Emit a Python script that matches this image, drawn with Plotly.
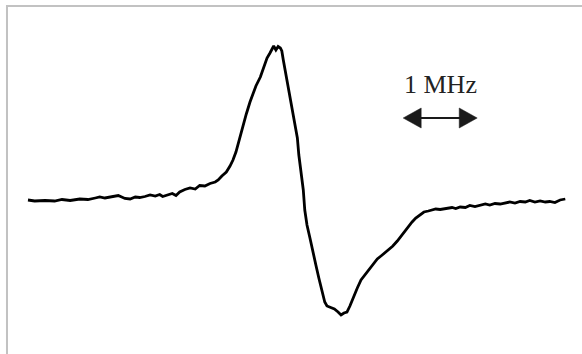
import plotly.graph_objects as go

# Frequency sweep (MHz, relative) and derivative signal (a.u.)
freq_mhz = [0.00, 0.09, 0.23, 0.36, 0.46, 0.57, 0.70, 0.81, 0.91, 0.97,
            1.04, 1.14, 1.22, 1.31, 1.38, 1.45, 1.51, 1.58, 1.65, 1.72,
            1.78, 1.82, 1.89, 1.95, 2.00, 2.05, 2.12, 2.19, 2.26, 2.32,
            2.39, 2.46, 2.53, 2.57, 2.62, 2.68, 2.73, 2.77, 2.81, 2.84,
            2.86, 2.91, 2.95, 3.00, 3.04, 3.08, 3.14, 3.19, 3.23, 3.27,
            3.30, 3.32, 3.35, 3.38, 3.41, 3.43, 3.45, 3.47, 3.50, 3.53,
            3.55, 3.58, 3.61, 3.64, 3.66, 3.69, 3.72, 3.74, 3.77, 3.81,
            3.85, 3.89, 3.93, 3.97, 4.01, 4.04, 4.08, 4.14, 4.19, 4.23,
            4.27, 4.31, 4.35, 4.39, 4.45, 4.50, 4.55, 4.61, 4.66, 4.72,
            4.77, 4.82, 4.88, 4.93, 4.99, 5.03, 5.08, 5.14, 5.19, 5.24,
            5.30, 5.35, 5.41, 5.46, 5.51, 5.57, 5.62, 5.68, 5.73, 5.78,
            5.84, 5.91, 5.97, 6.04, 6.11, 6.18, 6.24, 6.31, 6.38, 6.45,
            6.51, 6.58, 6.65, 6.72, 6.78, 6.85, 6.92, 6.99, 7.05, 7.12,
            7.19, 7.26]

signal = [0, -1, -0.5, -1, 0.5, -0.5, 1, 0.5, 2, 3,
          2, 3, 4.5, 1.5, 1, 3, 2.5, 3.5, 5, 4,
          5.5, 3.5, 5, 6.5, 4.5, 8, 10.5, 12, 11, 14.5,
          14, 16.5, 18, 20, 24, 28, 34, 40, 48, 56,
          64, 75, 86, 98, 107, 114, 123, 133, 142, 147,
          151, 154, 150, 153.5, 152, 149, 140, 132, 120, 110,
          100, 88, 76, 62, 45, 28, 10, -10, -25, -38,
          -50, -65, -78, -90, -102, -106, -107, -109, -112, -115,
          -113, -112, -106, -98, -88, -80, -75, -70, -64, -59,
          -56, -53, -49, -46, -41, -37, -32, -26, -22, -18,
          -15, -12, -11, -10, -9, -9.5, -9, -8, -7.5, -8.5,
          -7, -7.5, -5.5, -6.5, -5, -4, -5, -3.5, -4, -3,
          -2, -3, -1.5, -2, -0.5, -2, -1, -2, -1.5, -2.5,
          0, 1]

# Scale bar
bar_start = 5.07
bar_width_mhz = 1.0
bar_level = 82
bar_label = "1 MHz"

x_range = [-0.378, 7.486]
y_range = [-154, 200]

fig = go.Figure()
fig.add_trace(go.Scatter(x=freq_mhz, y=signal, mode="lines",
                         line=dict(color="#000000", width=2.8),
                         hoverinfo="skip", showlegend=False))

bar_end = bar_start + bar_width_mhz
head_len = 0.243
head_half = 10
fig.add_shape(type="line", x0=bar_start + head_len * 0.8, x1=bar_end - head_len * 0.8,
              y0=bar_level, y1=bar_level, xref="x", yref="y",
              line=dict(color="#1a1a1a", width=2.2))
fig.add_shape(type="path", xref="x", yref="y",
              path=f"M {bar_start},{bar_level} L {bar_start + head_len},{bar_level + head_half} "
                   f"L {bar_start + head_len},{bar_level - head_half} Z",
              fillcolor="#1a1a1a", line=dict(color="#1a1a1a", width=0.5))
fig.add_shape(type="path", xref="x", yref="y",
              path=f"M {bar_end},{bar_level} L {bar_end - head_len},{bar_level + head_half} "
                   f"L {bar_end - head_len},{bar_level - head_half} Z",
              fillcolor="#1a1a1a", line=dict(color="#1a1a1a", width=0.5))
fig.add_annotation(x=bar_start + bar_width_mhz / 2, y=bar_level + 34, xref="x", yref="y",
                   text=bar_label, showarrow=False,
                   font=dict(family="Liberation Serif, Times New Roman, serif", size=26, color="#222222"))

# Light gray frame (top and left edges visible)
fig.add_shape(type="rect", xref="paper", yref="paper",
              x0=0.012, x1=1.1, y0=-0.1, y1=0.983,
              line=dict(color="#c2c2c2", width=2), fillcolor="rgba(0,0,0,0)")

fig.update_layout(
    width=582, height=354,
    margin=dict(l=0, r=0, t=0, b=0),
    paper_bgcolor="white", plot_bgcolor="white",
    xaxis=dict(range=x_range, visible=False, showgrid=False, zeroline=False),
    yaxis=dict(range=y_range, visible=False, showgrid=False, zeroline=False),
)

fig.write_html("out.html",
               config={"displayModeBar": False, "staticPlot": True},
               post_script="document.body.style.margin='0px';document.body.style.overflow='hidden';")
